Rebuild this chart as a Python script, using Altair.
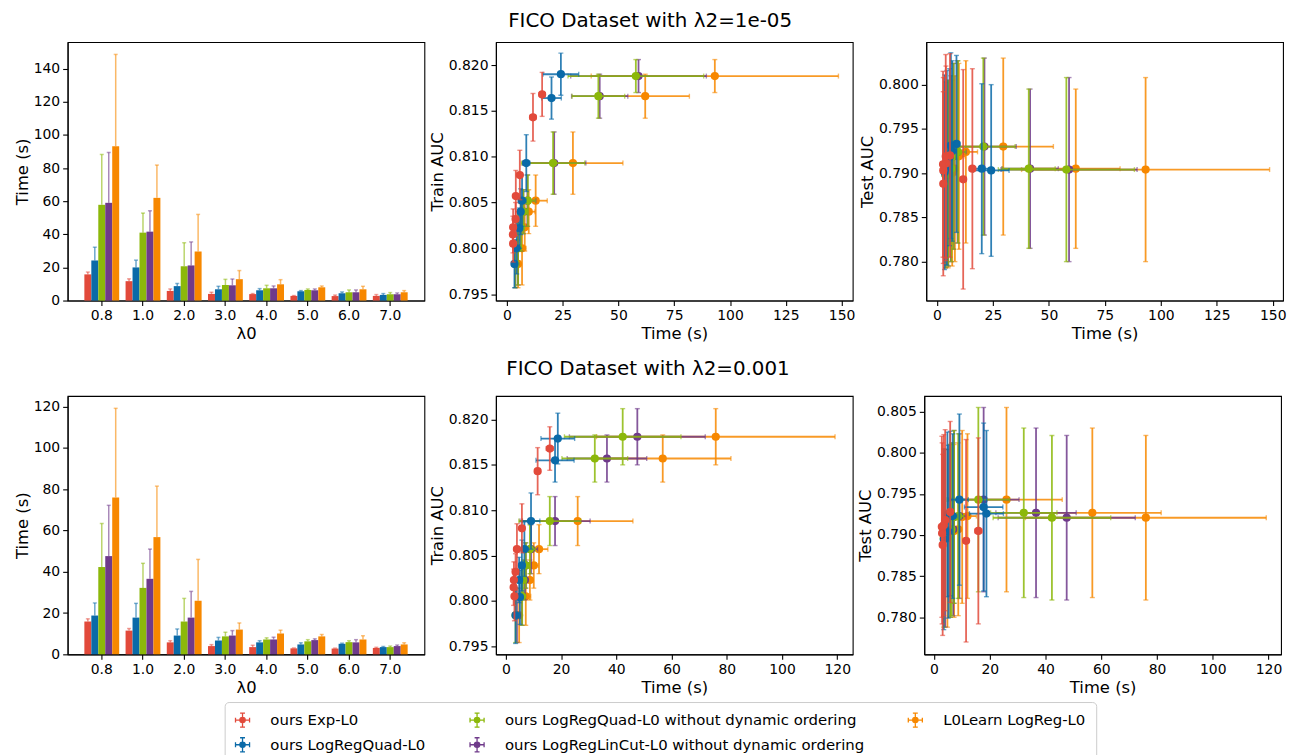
import altair as alt
import pandas as pd

# ---------------- data ----------------
LAM0 = ["0.8", "1.0", "2.0", "3.0", "4.0", "5.0", "6.0", "7.0"]
METHODS = [
    "ours Exp-L0",
    "ours LogRegQuad-L0",
    "ours LogRegQuad-L0 without dynamic ordering",
    "ours LogRegLinCut-L0 without dynamic ordering",
    "L0Learn LogReg-L0",
]
COLORS = ["#e24a3b", "#0a6aa8", "#8cb80a", "#6f3a8a", "#f78800"]
TITLES = ["FICO Dataset with λ2=1e-05", "FICO Dataset with λ2=0.001"]

# ---- lambda2 = 1e-05 ----
time_exp_1 = [15.8, 11.7, 5.8, 4.0, 3.9, 2.8, 2.7, 2.8]
time_quad_1 = [24.2, 20.0, 8.7, 6.8, 6.2, 5.6, 4.4, 3.4]
time_quadnd_1 = [57.8, 41.0, 20.7, 9.4, 7.4, 6.4, 5.0, 3.8]
time_lincut_1 = [59.0, 41.6, 21.2, 9.2, 7.4, 6.2, 5.0, 3.8]
time_l0l_1 = [93.2, 62.0, 29.6, 12.9, 9.8, 8.0, 6.8, 5.0]

tstd_exp_1 = [1.4, 1.4, 1.2, 1.0, 0.3, 0.2, 0.6, 0.8]
tstd_quad_1 = [8.0, 4.4, 1.6, 1.8, 1.0, 0.4, 0.8, 0.8]
tstd_quadnd_1 = [30.4, 11.8, 14.2, 3.4, 1.8, 0.6, 1.4, 1.0]
tstd_lincut_1 = [30.4, 12.6, 14.2, 3.8, 1.4, 0.8, 1.4, 0.8]
tstd_l0l_1 = [55.4, 19.8, 22.4, 5.2, 2.8, 0.8, 1.8, 1.0]

train_exp_1 = [0.8168, 0.8143, 0.8080, 0.8057, 0.8032, 0.8023, 0.8015, 0.8005]
train_quad_1 = [0.8190, 0.8164, 0.8093, 0.8052, 0.8040, 0.8022, 0.8000, 0.7983]
train_exact_1 = [0.8188, 0.8166, 0.8093, 0.8052, 0.8040, 0.8023, 0.8000, 0.7983]
trstd_exp_1 = [0.0024, 0.0026, 0.0027, 0.0028, 0.0018, 0.0020, 0.0020, 0.0020]
trstd_quad_1 = [0.0023, 0.0023, 0.0031, 0.0028, 0.0025, 0.0022, 0.0028, 0.0026]
trstd_exact_1 = [0.0018, 0.0024, 0.0034, 0.0028, 0.0024, 0.0026, 0.0040, 0.0026]

test_exp_1 = [0.7905, 0.7893, 0.7920, 0.7911, 0.7919, 0.7903, 0.7910, 0.7888]
test_quad_1 = [0.7903, 0.7905, 0.7933, 0.7925, 0.7931, 0.7918, 0.7906, 0.7901]
test_exact_1 = [0.7904, 0.7905, 0.7930, 0.7924, 0.7919, 0.7905, 0.7900, 0.7898]
testd_exp_1 = [0.0113, 0.0124, 0.0115, 0.0110, 0.0115, 0.0105, 0.0105, 0.0104]
testd_quad_1 = [0.0097, 0.0096, 0.0100, 0.0102, 0.0105, 0.0100, 0.0110, 0.0110]
testd_exact_1 = [0.0104, 0.0090, 0.0100, 0.0103, 0.0105, 0.0105, 0.0105, 0.0105]

# ---- lambda2 = 0.001 ----
time_exp_2 = [15.9, 11.5, 5.8, 4.0, 3.5, 2.9, 2.8, 3.1]
time_quad_2 = [18.8, 17.8, 9.1, 6.7, 5.8, 4.8, 5.1, 3.5]
time_quadnd_2 = [42.3, 32.2, 15.9, 8.7, 7.2, 6.3, 5.9, 3.5]
time_lincut_2 = [47.6, 36.6, 17.8, 9.1, 7.2, 6.9, 5.8, 4.0]
time_l0l_2 = [76.0, 56.8, 26.0, 12.0, 10.1, 8.7, 7.2, 4.8]

tstd_exp_2 = [1.3, 1.0, 0.8, 0.7, 0.9, 0.2, 0.2, 0.3]
tstd_quad_2 = [6.1, 6.9, 3.2, 1.5, 0.8, 0.8, 0.3, 0.3]
tstd_quadnd_2 = [21.1, 11.9, 11.2, 2.0, 0.8, 0.8, 0.7, 0.5]
tstd_lincut_2 = [24.6, 14.4, 12.7, 2.4, 1.1, 0.6, 1.3, 0.5]
tstd_l0l_2 = [43.2, 24.7, 20.0, 3.2, 1.6, 0.9, 1.8, 0.8]

train_exp_2 = [0.8168, 0.8143, 0.8080, 0.8057, 0.8032, 0.8023, 0.8015, 0.8005]
train_quad_2 = [0.8179, 0.8155, 0.8088, 0.8057, 0.8039, 0.8023, 0.8004, 0.7984]
train_exact_2 = [0.8181, 0.8157, 0.8088, 0.8057, 0.8039, 0.8023, 0.8005, 0.7984]
trstd_exp_2 = [0.0024, 0.0026, 0.0027, 0.0028, 0.0020, 0.0020, 0.0020, 0.0027]
trstd_quad_2 = [0.0028, 0.0024, 0.0031, 0.0030, 0.0028, 0.0025, 0.0030, 0.0031]
trstd_exact_2 = [0.0031, 0.0026, 0.0027, 0.0027, 0.0025, 0.0022, 0.0032, 0.0030]

test_exp_2 = [0.7905, 0.7893, 0.7928, 0.7918, 0.7912, 0.7902, 0.7910, 0.7888]
test_quad_2 = [0.7926, 0.7934, 0.7943, 0.7923, 0.7926, 0.7925, 0.7904, 0.7895]
test_exact_2 = [0.7921, 0.7927, 0.7943, 0.7923, 0.7922, 0.7907, 0.7905, 0.7896]
testd_exp_2 = [0.0113, 0.0123, 0.0110, 0.0110, 0.0110, 0.0110, 0.0110, 0.0110]
testd_quad_2 = [0.0101, 0.0102, 0.0104, 0.0100, 0.0100, 0.0100, 0.0105, 0.0110]
testd_exact_2 = [0.0100, 0.0103, 0.0112, 0.0100, 0.0105, 0.0105, 0.0105, 0.0108]


def build(times, tstds, trains, trstds, tests, testds):
    rows = []
    for k, m in enumerate(METHODS):
        for i, l in enumerate(LAM0):
            rows.append(dict(method=m, lam0=l,
                             time=times[k][i], tstd=tstds[k][i],
                             train=trains[k][i], trstd=trstds[k][i],
                             test=tests[k][i], testd=testds[k][i]))
    return pd.DataFrame(rows)


df1 = build([time_exp_1, time_quad_1, time_quadnd_1, time_lincut_1, time_l0l_1],
            [tstd_exp_1, tstd_quad_1, tstd_quadnd_1, tstd_lincut_1, tstd_l0l_1],
            [train_exp_1, train_quad_1, train_exact_1, train_exact_1, train_exact_1],
            [trstd_exp_1, trstd_quad_1, trstd_exact_1, trstd_exact_1, trstd_exact_1],
            [test_exp_1, test_quad_1, test_exact_1, test_exact_1, test_exact_1],
            [testd_exp_1, testd_quad_1, testd_exact_1, testd_exact_1, testd_exact_1])
df2 = build([time_exp_2, time_quad_2, time_quadnd_2, time_lincut_2, time_l0l_2],
            [tstd_exp_2, tstd_quad_2, tstd_quadnd_2, tstd_lincut_2, tstd_l0l_2],
            [train_exp_2, train_quad_2, train_exact_2, train_exact_2, train_exact_2],
            [trstd_exp_2, trstd_quad_2, trstd_exact_2, trstd_exact_2, trstd_exact_2],
            [test_exp_2, test_quad_2, test_exact_2, test_exact_2, test_exact_2],
            [testd_exp_2, testd_quad_2, testd_exact_2, testd_exact_2, testd_exact_2])

# ---------------- styling ----------------
W, H = 359, 260
FONT = "DejaVu Sans"
# colour scale for bars / error bars (no legend); domain listed in another order
cscale = alt.Scale(domain=METHODS[::-1], range=COLORS[::-1])
# fill/stroke scale for the points, carries the legend (3 columns, filled column-wise)
lscale = alt.Scale(domain=METHODS, range=COLORS)

SYMBOL = ("M-1,0L1,0M-1,-0.35L-1,0.35M1,-0.35L1,0.35M0,-1L0,1M-0.35,-1L0.35,-1M-0.35,1L0.35,1"
          "M0.38,0A0.38,0.38,0,1,1,-0.38,0A0.38,0.38,0,1,1,0.38,0Z")
LEGEND = alt.Legend(title=None, orient="none", legendX=158, legendY=664, columns=3,
                    symbolType=SYMBOL, symbolSize=200, symbolStrokeWidth=1.3,
                    labelFontSize=15, labelFont=FONT, labelColor="black",
                    strokeColor="#cccccc", cornerRadius=4, padding=10,
                    fillColor="white", rowPadding=5, columnPadding=41, labelOffset=20,
                    labelLimit=500)


def bar_panel(df, ymax, yticks):
    base = alt.Chart(df).transform_calculate(hi="datum.time + datum.tstd")
    x = alt.X("lam0:N", sort=LAM0, title="λ0",
              scale=alt.Scale(paddingInner=0.155, paddingOuter=0.406),
              axis=alt.Axis(labelAngle=0))
    xo = alt.XOffset("method:N", sort=METHODS, scale=alt.Scale(domain=METHODS))
    ys = alt.Scale(domain=[0, ymax], nice=False, zero=True)
    y = alt.Y("time:Q", title="Time (s)", scale=ys, axis=alt.Axis(values=yticks))
    col = alt.Color("method:N", scale=cscale, legend=None)
    bars = base.mark_bar().encode(x=x, xOffset=xo, y=y, color=col)
    err = base.mark_rule(opacity=0.6, strokeWidth=1.5).encode(
        x=x, xOffset=xo, y=y, y2="hi:Q", color=col)
    cap = base.mark_tick(size=4, thickness=1.5, opacity=0.5).encode(
        x=x, xOffset=xo, y=alt.Y("hi:Q", scale=ys, title="Time (s)", axis=alt.Axis(values=yticks)),
        color=col)
    return alt.layer(bars, err, cap).properties(width=W, height=H)


def scatter_panel(df, yf, ysd, ytitle, xdom, xticks, ydom, yticks):
    base = alt.Chart(df).transform_calculate(
        tlo="datum.time - datum.tstd", thi="datum.time + datum.tstd",
        ylo=f"datum.{yf} - datum.{ysd}", yhi=f"datum.{yf} + datum.{ysd}")
    xs = alt.Scale(domain=xdom, nice=False, zero=False)
    ys = alt.Scale(domain=ydom, nice=False, zero=False)
    xa = alt.Axis(values=xticks, title="Time (s)")
    ya = alt.Axis(values=yticks, format=".3f", title=ytitle)

    def X(f):
        return alt.X(f"{f}:Q", scale=xs, axis=xa)

    def Y(f):
        return alt.Y(f"{f}:Q", scale=ys, axis=ya)

    col = alt.Color("method:N", scale=cscale, legend=None)
    layers = []
    for m in reversed(METHODS):
        b = base.transform_filter(alt.datum.method == m)
        hr = b.mark_rule(strokeWidth=1.8, opacity=0.85).encode(x=X("tlo"), x2="thi:Q", y=Y(yf), color=col)
        vr = b.mark_rule(strokeWidth=1.8, opacity=0.85).encode(x=X("time"), y=Y("ylo"), y2="yhi:Q", color=col)
        hc = b.transform_fold(["tlo", "thi"], as_=["k", "v"]).mark_tick(
            orient="vertical", size=5, thickness=1.4, opacity=0.6).encode(x=X("v"), y=Y(yf), color=col)
        vc = b.transform_fold(["ylo", "yhi"], as_=["k", "v"]).mark_tick(
            orient="horizontal", size=5, thickness=1.4, opacity=0.6).encode(x=X("time"), y=Y("v"), color=col)
        pt = b.mark_point(filled=True, size=46, strokeWidth=1.5, opacity=1).encode(
            x=X("time"), y=Y(yf),
            fill=alt.Fill("method:N", scale=lscale, legend=LEGEND),
            stroke=alt.Stroke("method:N", scale=lscale, legend=LEGEND))
        layers += [hr, vr, hc, vc, pt]
    return alt.layer(*layers).properties(width=W, height=H)


TICK_AUC_A = [0.795, 0.800, 0.805, 0.810, 0.815, 0.820]
TICK_TEST_1 = [0.780, 0.785, 0.790, 0.795, 0.800]
TICK_TEST_2 = [0.780, 0.785, 0.790, 0.795, 0.800, 0.805]
XT1 = [0, 25, 50, 75, 100, 125, 150]
XT2 = [0, 20, 40, 60, 80, 100, 120]

row1 = alt.hconcat(
    bar_panel(df1, 156, [0, 20, 40, 60, 80, 100, 120, 140]),
    scatter_panel(df1, "train", "trstd", "Train AUC", [-4.9, 155], XT1, [0.7943, 0.8225], TICK_AUC_A),
    scatter_panel(df1, "test", "testd", "Test AUC", [-4.8, 154.6], XT1, [0.7756, 0.8048], TICK_TEST_1),
    spacing=3,
).properties(title=alt.TitleParams(TITLES[0], anchor="middle", offset=11))

row2 = alt.hconcat(
    bar_panel(df2, 125.2, [0, 20, 40, 60, 80, 100, 120]),
    scatter_panel(df2, "train", "trstd", "Train AUC", [-3.6, 125.6], XT2, [0.7941, 0.8226], TICK_AUC_A),
    scatter_panel(df2, "test", "testd", "Test AUC", [-3.5, 124.5], XT2, [0.7755, 0.8069], TICK_TEST_2),
    spacing=3,
).properties(title=alt.TitleParams(TITLES[1], anchor="middle", offset=17))

chart = alt.vconcat(row1, row2, spacing=15).properties(
    padding={"left": 5, "right": 0, "top": 0, "bottom": 0}
).configure_view(
    stroke="black", strokeWidth=1.1
).configure_axis(
    domainColor="black", tickColor="black", labelColor="black", titleColor="black",
    labelFont=FONT, titleFont=FONT, labelFontSize=14, titleFontSize=16.5,
    titleFontWeight="normal", tickSize=5, grid=False, domainWidth=1.1, tickWidth=1.1,
    labelPadding=3, titlePadding=3,
).configure_title(
    font=FONT, fontSize=20, fontWeight="normal", color="black", anchor="middle"
).configure_legend(labelFont=FONT)

chart.save("out.html", embed_options={"renderer": "svg", "actions": False})
